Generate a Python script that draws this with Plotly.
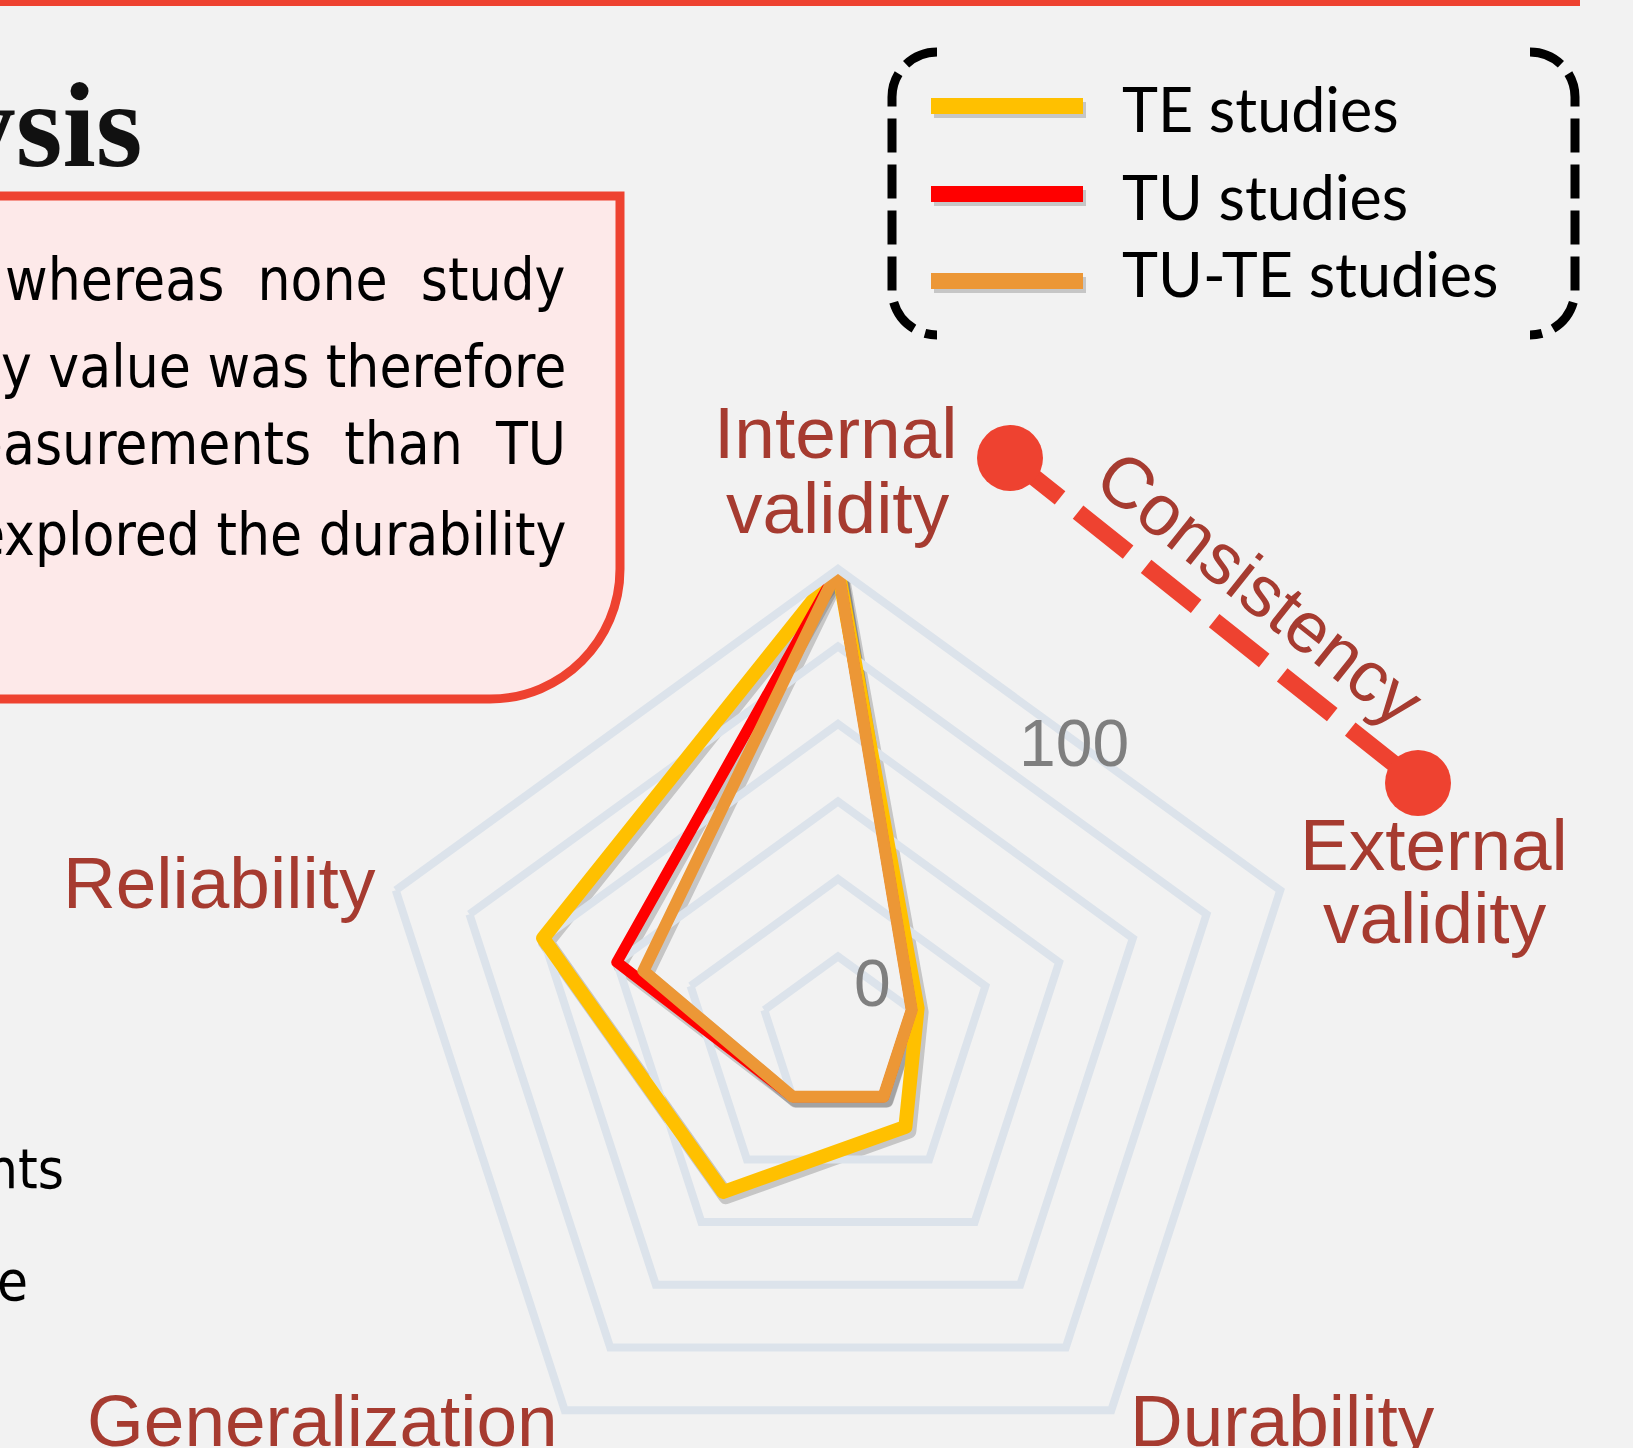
import plotly.graph_objects as go

# ---------------- data ----------------
categories = ["Internal validity", "External validity", "Durability", "Generalization", "Reliability"]
series_names = ["TE studies", "TU studies", "TU-TE studies"]
te_values = [125, 2, 12, 38, 75]
tu_values = [125, 0, 0, 0, 50]
tute_values = [125, 0, 0, 0, 41]
radial_ticks = [0, 25, 50, 75, 100, 125]
radial_tick_labels = ["0", "", "", "", "100", ""]
radial_range = [-25, 125]

# ---------------- styling ----------------
W, H = 1633, 1540
BG = "#f2f2f2"
GRID = "#dce3eb"
ACCENT = "#ee4230"
LABEL = "#a63b30"
COLORS = ["#ffc000", "#ff0000", "#ec9736"]
WIDTHS = [14, 11, 12]
SANS = "Liberation Sans, Arial, sans-serif"
NARROW = "DejaVu Sans Condensed, Liberation Sans, sans-serif"
LEG = "Lato, Liberation Sans, sans-serif"
SERIF = "Liberation Serif, DejaVu Serif, serif"


def X(px):
    return px / W


def Y(py):
    return 1 - py / H


def mid(baseline, size, k=0.3465):
    return Y(baseline - k * size)


CX, CY, R = 838, 1034, 465
SH = (3, 4)

fig = go.Figure()
all_values = [te_values, tu_values, tute_values]
closed_theta = categories + [categories[0]]

# shadow layer (same data, offset subplot)
for vals, w in zip(all_values, WIDTHS):
    fig.add_trace(go.Scatterpolar(
        r=vals + [vals[0]], theta=closed_theta, mode="lines",
        line=dict(color="rgba(40,40,40,0.22)", width=w + 2),
        subplot="polar", showlegend=False, hoverinfo="skip", cliponaxis=False))

for name, vals, c, w in zip(series_names, all_values, COLORS, WIDTHS):
    fig.add_trace(go.Scatterpolar(
        r=vals + [vals[0]], theta=closed_theta, mode="lines", name=name,
        line=dict(color=c, width=w),
        subplot="polar2", showlegend=False, cliponaxis=False))

axis_common = dict(direction="clockwise", rotation=90, categoryorder="array",
                   categoryarray=categories)

fig.update_layout(
    width=W, height=H,
    margin=dict(l=0, r=0, t=0, b=0),
    paper_bgcolor=BG, plot_bgcolor=BG,
    showlegend=False,
    polar=dict(
        domain=dict(x=[X(CX - R + SH[0]), X(CX + R + SH[0])],
                    y=[Y(CY + R + SH[1]), Y(CY - R + SH[1])]),
        bgcolor="rgba(0,0,0,0)", gridshape="linear",
        radialaxis=dict(range=radial_range, visible=False),
        angularaxis=dict(visible=False, **axis_common),
    ),
    polar2=dict(
        domain=dict(x=[X(CX - R), X(CX + R)], y=[Y(CY + R), Y(CY - R)]),
        bgcolor="rgba(0,0,0,0)", gridshape="linear",
        radialaxis=dict(range=radial_range, tickvals=radial_ticks, ticktext=radial_tick_labels,
                        showticklabels=False, showline=False, ticks="",
                        gridcolor=GRID, gridwidth=8),
        angularaxis=dict(showgrid=False, showticklabels=False, ticks="",
                         showline=True, linecolor=GRID, linewidth=8, **axis_common),
    ),
)

shapes = []
# top accent rule
shapes.append(dict(type="rect", xref="paper", yref="paper", x0=X(0), x1=X(1580), y0=Y(6), y1=Y(0),
                   fillcolor=ACCENT, line=dict(width=0)))
# text box with rounded bottom-right corner
k = 0.5523 * 130
box_path = (f"M {X(-30)},{Y(196)} L {X(620)},{Y(196)} L {X(620)},{Y(569)} "
            f"C {X(620)},{Y(569 + k)} {X(490 + k)},{Y(699)} {X(490)},{Y(699)} "
            f"L {X(-30)},{Y(699)} Z")
shapes.append(dict(type="path", xref="paper", yref="paper", path=box_path,
                   fillcolor="#fde9e9", line=dict(color=ACCENT, width=9)))

# legend brackets
kb = 0.5523 * 45
lb = (f"M {X(937)},{Y(52)} C {X(937 - kb)},{Y(52)} {X(892)},{Y(97 - kb)} {X(892)},{Y(97)} "
      f"L {X(892)},{Y(290)} C {X(892)},{Y(290 + kb)} {X(937 - kb)},{Y(335)} {X(937)},{Y(335)}")
rb = (f"M {X(1530)},{Y(52)} C {X(1530 + kb)},{Y(52)} {X(1575)},{Y(97 - kb)} {X(1575)},{Y(97)} "
      f"L {X(1575)},{Y(290)} C {X(1575)},{Y(290 + kb)} {X(1530 + kb)},{Y(335)} {X(1530)},{Y(335)}")
for p in (lb, rb):
    shapes.append(dict(type="path", xref="paper", yref="paper", path=p,
                       line=dict(color="black", width=9, dash="34px,12px")))

# legend swatches
leg_y = [106, 194, 281]
for yy, c in zip(leg_y, COLORS):
    shapes.append(dict(type="line", xref="paper", yref="paper", x0=X(934), x1=X(1086),
                       y0=Y(yy + 4), y1=Y(yy + 4), line=dict(color="rgba(40,40,40,0.22)", width=16)))
    shapes.append(dict(type="line", xref="paper", yref="paper", x0=X(931), x1=X(1083),
                       y0=Y(yy), y1=Y(yy), line=dict(color=c, width=16)))

# consistency connector
d1 = (1010, 458)
d2 = (1418, 783)
shapes.append(dict(type="line", xref="paper", yref="paper", x0=X(d1[0]), y0=Y(d1[1]),
                   x1=X(d2[0]), y1=Y(d2[1]), line=dict(color=ACCENT, width=17, dash="64px,23px")))
for (cx, cy) in (d1, d2):
    shapes.append(dict(type="circle", xref="paper", yref="paper", x0=X(cx - 33), x1=X(cx + 33),
                       y0=Y(cy + 33), y1=Y(cy - 33), fillcolor=ACCENT, line=dict(width=0)))

fig.update_layout(shapes=shapes)

ann = []


def add_text(text, x, baseline, size, family, color, xanchor="center", k=0.3465, angle=0, bold=False):
    ann.append(dict(text=text, x=X(x), y=mid(baseline, size, k), xref="paper", yref="paper",
                    xanchor=xanchor, yanchor="middle", showarrow=False, textangle=angle,
                    font=dict(size=size, family=family, color=color,
                              weight="bold" if bold else "normal")))


# title fragment
add_text("Analysis", 144, 166, 120, SERIF, "#111111", xanchor="right", k=0.3375, bold=True)

# box text
NB = "\u00a0 "
box_lines = ["whereas" + NB + "none" + NB + "study", "validity value was therefore",
             "measurements" + NB + "than" + NB + "TU", "explored the durability"]
for t, b in zip(box_lines, [302, 389, 466, 557]):
    add_text(t, 568, b, 58, NARROW, "#000000", xanchor="right", k=0.38)

add_text("nts", 66, 1190, 56, NARROW, "#000000", xanchor="right", k=0.38)
add_text("e", 30, 1302, 56, NARROW, "#000000", xanchor="right", k=0.38)

# radial tick labels (only the labelled ticks)
tick_label_pos = {"0": (872, 983), "100": (1074, 743)}
for tv, tt in zip(radial_ticks, radial_tick_labels):
    if tt:
        px_, py_ = tick_label_pos[tt]
        ann.append(dict(text=tt, x=X(px_), y=Y(py_), xref="paper", yref="paper",
                        xanchor="center", yanchor="middle", showarrow=False,
                        font=dict(size=66, family=SANS, color="#7f7f7f")))

# category labels (from categories)
lab_pos = {
    "Internal validity": [(836, 458), (838, 533)],
    "External validity": [(1434, 870), (1435, 943)],
    "Durability": [(1282, 1446)],
    "Generalization": [(322, 1446)],
    "Reliability": [(219, 908)],
}
for cat in categories:
    words = cat.split(" ")
    for wd, (x, b) in zip(words, lab_pos[cat]):
        add_text(wd, x, b, 73, SANS, LABEL)

# legend labels
for name, b in zip(series_names, [132, 220, 297]):
    add_text(name, 1120, b, 61, LEG, "#000000", xanchor="left", k=0.387)

# consistency label
ann.append(dict(text="Consistency", x=X(1260), y=Y(588), xref="paper", yref="paper",
                xanchor="center", yanchor="middle", showarrow=False, textangle=38.5,
                font=dict(size=72, family=SANS, color=LABEL)))

fig.update_layout(annotations=ann)

post = ("document.body.style.margin='0';document.body.style.overflow='hidden';"
        "document.documentElement.style.overflow='hidden';"
        "var s=document.createElement('style');"
        "s.innerHTML='.scatterlayer .js-line{stroke-linejoin:round !important;stroke-linecap:round !important}';"
        "document.head.appendChild(s);")

fig.write_html("out.html", post_script=post, config={"displayModeBar": False})
